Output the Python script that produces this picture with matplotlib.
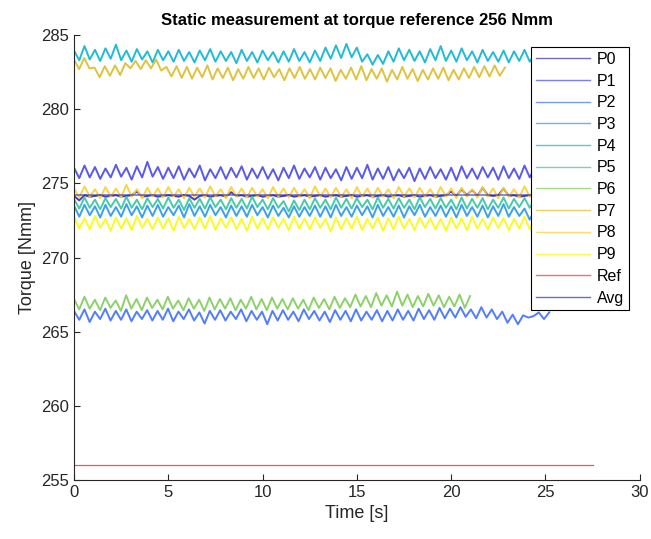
import matplotlib
matplotlib.use('Agg')
import matplotlib.pyplot as plt
import numpy as np

plt.rcParams['font.family'] = ['Liberation Sans', 'DejaVu Sans']

# end times of each recording [s]
t_end = {'P0': 27.5, 'P1': 27.5, 'P2': 25.2, 'P3': 27.5, 'P4': 27.5,
         'P5': 27.5, 'P6': 21.0, 'P7': 22.85, 'P8': 27.5, 'P9': 27.5}

P0 = [274.15, 273.85, 274.20, 274.10, 274.15, 274.20, 274.10, 274.15, 274.20, 274.10,
      274.15, 274.20, 274.45, 274.10, 274.15, 274.20, 274.10, 274.15, 274.20, 274.15,
      274.10, 274.20, 274.15, 273.90, 274.15, 274.20, 274.10, 274.15, 274.20, 274.10,
      274.40, 274.15, 274.20, 274.10, 274.15, 274.20, 274.10, 274.15, 274.20, 274.10,
      274.15, 274.20, 274.10, 274.15, 274.20, 274.10, 274.15, 274.20, 274.10, 274.15,
      274.20, 274.10, 274.15, 274.20, 274.10, 274.15, 274.20, 274.10, 274.15, 274.20,
      274.10, 274.15, 274.20, 274.10, 274.15, 274.20, 274.10, 274.15, 274.20, 274.10,
      274.15, 274.20, 274.45, 274.15, 274.60, 274.20, 274.55, 274.15, 274.70, 274.20,
      274.15, 274.20, 274.65, 274.15, 274.20, 274.10, 274.15, 274.20, 274.10, 274.15,
      274.20, 274.10, 274.15, 274.20, 274.10, 274.15, 274.20, 274.10, 274.15, 274.20]

P1 = [276.05, 275.35, 276.20, 275.40, 276.10, 275.30, 276.00, 275.40, 276.25, 275.45,
      276.05, 275.25, 276.15, 275.40, 276.45, 275.45, 276.10, 275.30, 276.05, 275.35,
      276.15, 275.25, 276.00, 275.40, 276.20, 275.20, 275.95, 275.35, 276.10, 275.30,
      276.05, 275.40, 276.15, 275.25, 276.00, 275.35, 276.10, 275.30, 275.95, 275.20,
      276.05, 275.35, 276.20, 275.30, 276.00, 275.40, 276.10, 275.25, 276.05, 275.35,
      275.95, 275.20, 276.10, 275.30, 276.05, 275.35, 276.25, 275.25, 276.00, 275.30,
      276.10, 275.20, 275.95, 275.35, 276.05, 275.15, 276.00, 275.30, 276.10, 275.35,
      275.95, 275.25, 276.05, 275.20, 276.15, 275.35, 276.00, 275.30, 276.10, 275.40,
      276.05, 275.25, 276.15, 275.35, 276.00, 275.30, 276.20, 275.40, 276.05, 275.25,
      276.30, 275.35, 276.10, 275.30, 276.05, 275.40, 276.15, 275.25, 276.00, 275.35]

P2 = [266.40, 265.80, 266.50, 265.65, 266.35, 265.85, 266.55, 265.75, 266.40, 265.80,
      266.50, 265.70, 266.35, 265.85, 266.45, 265.75, 266.40, 265.80, 266.55, 265.70,
      266.35, 265.85, 266.50, 265.75, 266.30, 265.55, 266.40, 265.80, 266.45, 265.75,
      266.35, 265.85, 266.50, 265.70, 266.40, 265.80, 266.35, 265.50, 266.40, 265.75,
      266.45, 265.80, 266.35, 265.70, 266.50, 265.85, 266.40, 265.75, 266.35, 265.65,
      266.45, 265.80, 266.40, 265.70, 266.50, 265.75, 266.35, 265.80, 266.45, 265.70,
      266.40, 265.75, 266.50, 265.80, 266.40, 265.75, 266.55, 265.85, 266.45, 265.80,
      266.60, 265.90, 266.55, 265.95, 266.65, 266.00, 266.50, 265.90, 266.65, 265.95,
      266.50, 265.85, 266.35, 265.60, 266.15, 265.50, 266.10, 265.95, 266.05, 266.30,
      265.85, 266.30]

P3 = [273.50, 272.75, 273.55, 272.85, 273.45, 272.70, 273.55, 272.80, 273.40, 272.75,
      273.60, 272.85, 273.45, 272.70, 273.50, 272.80, 273.55, 272.75, 273.40, 272.85,
      273.50, 272.70, 273.60, 272.80, 273.45, 272.75, 273.55, 272.85, 273.40, 272.70,
      273.50, 272.80, 273.45, 272.75, 273.55, 272.85, 273.40, 272.70, 273.50, 272.80,
      273.35, 272.70, 273.45, 272.75, 273.40, 272.80, 273.50, 272.75, 273.45, 272.70,
      273.55, 272.80, 273.40, 272.75, 273.50, 272.85, 273.45, 272.70, 273.55, 272.80,
      273.40, 272.75, 273.50, 272.70, 273.45, 272.85, 273.55, 272.75, 273.40, 272.80,
      273.50, 272.75, 273.45, 272.70, 273.55, 272.80, 273.40, 272.75, 273.50, 272.70,
      273.45, 272.80, 273.60, 272.75, 273.40, 272.80, 273.30, 272.55, 273.25, 272.45,
      273.20, 272.60, 273.30, 272.50, 273.25, 272.65, 273.35, 272.55, 273.40, 272.80]

P4 = [283.95, 283.30, 284.25, 283.35, 284.00, 283.25, 284.10, 283.40, 284.35, 283.30,
      283.95, 283.20, 284.05, 283.35, 283.90, 283.15, 284.00, 283.30, 283.90, 283.20,
      284.00, 283.25, 283.85, 283.15, 283.95, 283.30, 284.05, 283.20, 283.90, 283.25,
      283.85, 283.10, 284.00, 283.25, 283.85, 283.15, 283.95, 283.30, 283.85, 283.15,
      283.90, 283.20, 284.05, 283.25, 283.85, 283.15, 283.95, 283.25, 284.15, 283.40,
      284.30, 283.45, 284.40, 283.50, 284.15, 283.20, 283.70, 283.00, 283.65, 283.05,
      283.90, 283.20, 284.10, 283.30, 284.00, 283.25, 283.90, 283.15, 284.05, 283.30,
      284.25, 283.25, 283.95, 283.20, 284.10, 283.30, 283.90, 283.15, 284.00, 283.25,
      283.85, 283.20, 283.95, 283.15, 283.90, 283.25, 284.00, 283.20, 283.80, 283.10,
      283.90, 283.25, 283.75, 283.00, 283.75, 283.10, 283.85, 283.15, 283.80, 283.20]

P5 = [273.95, 273.30, 274.05, 273.35, 273.90, 273.25, 274.00, 273.40, 273.95, 273.30,
      274.10, 273.35, 273.90, 273.25, 274.00, 273.40, 273.95, 273.30, 274.05, 273.35,
      273.90, 273.20, 274.00, 273.35, 273.95, 273.30, 274.05, 273.40, 273.90, 273.25,
      274.00, 273.35, 273.95, 273.30, 274.10, 273.40, 273.90, 273.25, 274.00, 273.35,
      273.80, 273.10, 273.85, 273.20, 273.90, 273.25, 274.00, 273.35, 273.90, 273.25,
      274.05, 273.35, 273.95, 273.30, 274.00, 273.40, 273.90, 273.25, 274.05, 273.35,
      273.95, 273.30, 274.00, 273.35, 273.90, 273.25, 274.05, 273.40, 273.95, 273.30,
      274.00, 273.35, 273.90, 273.25, 274.05, 273.30, 273.95, 273.35, 274.00, 273.25,
      273.90, 273.35, 274.05, 273.30, 273.95, 273.40, 274.00, 273.35, 273.90, 273.30,
      274.05, 273.35, 273.95, 273.30, 274.00, 273.40, 273.90, 273.35, 274.05, 273.40]

P6 = [267.20, 266.50, 267.35, 266.55, 267.15, 266.45, 267.30, 266.60, 267.10, 266.40,
      267.45, 266.55, 267.20, 266.45, 267.30, 266.60, 267.15, 266.50, 267.35, 266.55,
      267.10, 266.45, 267.25, 266.55, 267.15, 266.40, 267.30, 266.50, 267.20, 266.55,
      267.25, 266.45, 267.15, 266.55, 267.35, 266.50, 267.20, 266.45, 267.30, 266.55,
      267.20, 266.50, 267.25, 266.55, 267.15, 266.45, 267.30, 266.60, 267.20, 266.50,
      267.35, 266.60, 267.25, 266.65, 267.50, 266.70, 267.40, 266.65, 267.60, 266.75,
      267.45, 266.70, 267.70, 266.75, 267.50, 266.65, 267.40, 266.70, 267.55, 266.75,
      267.45, 266.65, 267.35, 266.70, 267.50, 266.60, 267.40]

P7 = [283.35, 282.70, 283.45, 282.75, 282.80, 282.15, 282.90, 282.25, 282.95, 282.30,
      283.10, 282.75, 283.25, 282.70, 283.30, 282.75, 283.35, 282.60, 282.85, 282.20,
      282.90, 282.10, 282.85, 282.05, 282.80, 282.15, 282.95, 282.00, 282.75, 282.10,
      282.80, 281.95, 282.70, 282.05, 282.85, 282.10, 282.75, 282.00, 282.80, 282.15,
      282.70, 281.95, 282.75, 282.10, 282.85, 282.05, 282.70, 282.00, 282.80, 282.10,
      282.75, 281.90, 282.65, 282.05, 282.80, 282.00, 282.90, 281.95, 282.70, 282.05,
      282.75, 281.85, 282.65, 282.00, 282.85, 282.05, 282.70, 281.90, 282.65, 282.00,
      282.75, 282.05, 282.80, 281.95, 282.65, 282.00, 282.75, 282.10, 282.85, 282.15,
      282.90, 282.20, 282.95, 282.25, 282.80]

P8 = [274.65, 274.05, 274.80, 274.10, 274.60, 274.00, 274.75, 274.10, 274.65, 274.05,
      274.90, 274.10, 274.60, 274.00, 274.70, 274.10, 274.65, 274.05, 274.75, 274.10,
      274.60, 274.00, 274.70, 274.10, 274.65, 274.05, 274.80, 274.10, 274.60, 274.00,
      274.75, 274.10, 274.65, 274.05, 274.70, 274.10, 274.60, 274.00, 274.75, 274.10,
      274.65, 274.05, 274.70, 274.10, 274.60, 274.00, 274.80, 274.10, 274.65, 274.05,
      274.70, 274.10, 274.60, 274.00, 274.75, 274.10, 274.65, 274.05, 274.70, 274.10,
      274.60, 274.00, 274.75, 274.10, 274.65, 274.05, 274.70, 274.10, 274.60, 274.05,
      274.75, 274.10, 274.65, 274.00, 274.70, 274.10, 274.60, 274.05, 274.75, 274.10,
      274.65, 274.00, 274.70, 274.10, 274.60, 274.05, 274.80, 274.10, 274.65, 274.05,
      274.70, 274.10, 274.60, 274.00, 274.75, 274.10, 274.65, 274.05, 274.70, 274.10]

P9 = [272.75, 271.95, 272.65, 271.90, 272.80, 272.00, 272.60, 271.80, 272.70, 271.95,
      272.65, 271.85, 272.80, 272.00, 272.60, 271.90, 272.70, 271.95, 272.65, 271.80,
      272.75, 272.00, 272.60, 271.90, 272.70, 271.95, 272.80, 271.85, 272.65, 272.00,
      272.70, 271.90, 272.60, 271.80, 272.75, 271.95, 272.65, 271.90, 272.70, 272.00,
      272.60, 271.85, 272.75, 271.95, 272.65, 271.90, 272.70, 272.00, 272.60, 271.75,
      272.70, 271.90, 272.65, 271.95, 272.75, 271.85, 272.60, 271.95, 272.70, 271.80,
      272.65, 271.90, 272.75, 271.95, 272.60, 271.85, 272.70, 272.00, 272.65, 271.90,
      272.60, 271.80, 272.70, 271.95, 272.65, 271.85, 272.75, 271.95, 272.60, 271.90,
      272.70, 272.00, 272.65, 271.85, 272.60, 271.95, 272.75, 271.90, 272.65, 272.00,
      272.70, 271.95, 272.80, 271.90, 272.65, 272.00, 272.75, 272.05, 272.70, 271.95]

ref_torque = 256.0
avg_torque = 274.2
ref_end = 27.5

series = {'P0': P0, 'P1': P1, 'P2': P2, 'P3': P3, 'P4': P4,
          'P5': P5, 'P6': P6, 'P7': P7, 'P8': P8, 'P9': P9}

# parula(10)
cores = ['#3e26a8', '#4747eb', '#3e6ffe', '#2796eb', '#08b4d0',
         '#31c69f', '#80cc59', '#dcbd29', '#fccf30', '#f9fb0e']

fig = plt.figure(figsize=(6.51, 5.39), dpi=100)
ax = fig.add_axes([0.1137, 1 - 480/539, 0.869, (480 - 35)/539])

for (nome, valores), cor in zip(series.items(), cores):
    tempo = np.linspace(0, t_end[nome], len(valores))
    ax.plot(tempo, valores, color=cor, linewidth=1.4, alpha=0.9, label=nome)

ax.plot([0, ref_end], [ref_torque, ref_torque], color='#e8383b', linewidth=0.9, alpha=0.85, label='Ref')
ax.plot([0, ref_end], [avg_torque, avg_torque], color='#2a2ad0', linewidth=1.4, alpha=0.55, label='Avg')

ax.set_xlim(0, 30)
ax.set_ylim(255, 285)
ax.set_xticks(np.arange(0, 31, 5))
ax.set_yticks(np.arange(255, 286, 5))

for lado in ['top', 'right']:
    ax.spines[lado].set_visible(False)
for lado in ['left', 'bottom']:
    ax.spines[lado].set_color('#262626')
    ax.spines[lado].set_linewidth(0.8)
ax.tick_params(direction='in', length=4, width=0.8, colors='#262626', labelsize=12)

ax.set_title('Static measurement at torque reference 256 Nmm', fontsize=12, fontweight='bold', pad=7)
ax.set_xlabel('Time [s]', fontsize=13, color='#262626')
ax.set_ylabel('Torque [Nmm]', fontsize=13, color='#262626')

leg = ax.legend(loc='upper left', bbox_to_anchor=(531/651, 1 - 47/539), bbox_transform=fig.transFigure,
                borderaxespad=0, fontsize=11.5, handlelength=3.4, labelspacing=0.42,
                fancybox=False, framealpha=1, edgecolor='black', borderpad=0.3, handletextpad=0.4)
leg.get_frame().set_linewidth(0.8)
for linha in leg.get_lines():
    linha.set_alpha(0.7)
    linha.set_linewidth(1.0)

plt.savefig('out.png', dpi=100)
plt.close()
